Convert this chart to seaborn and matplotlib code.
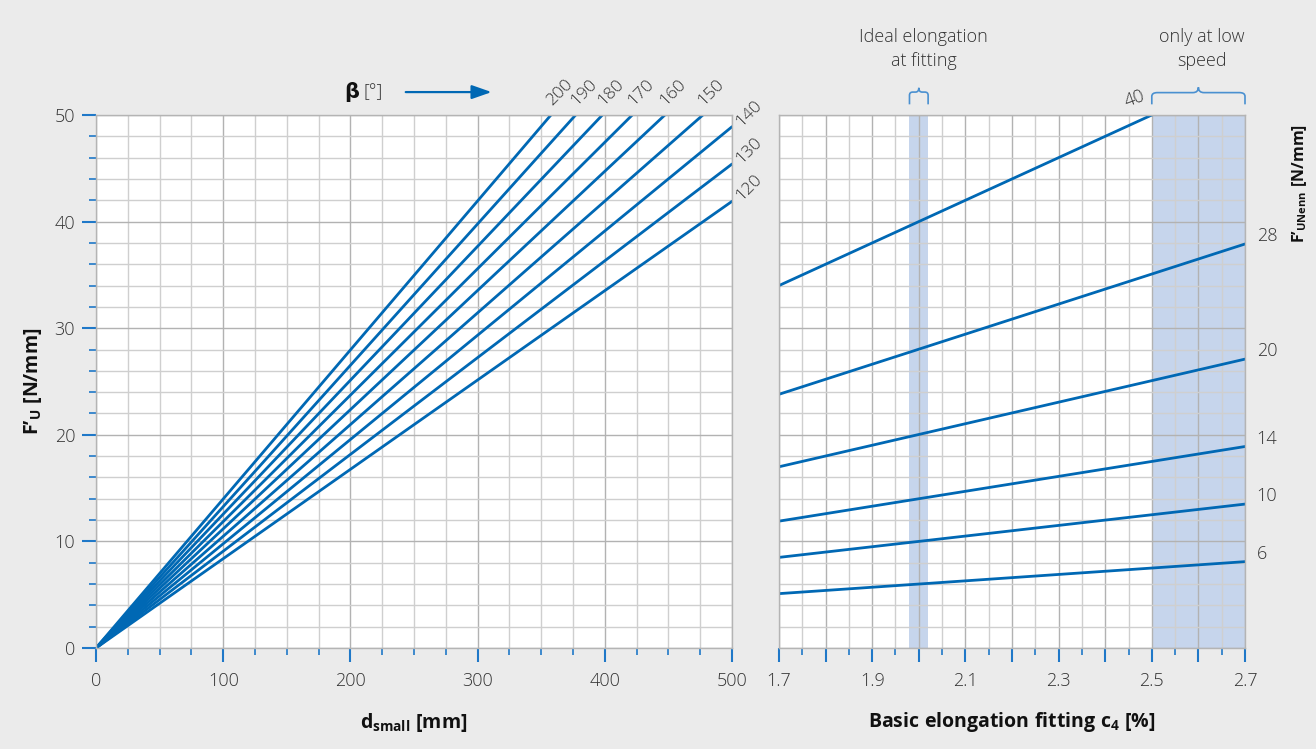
import numpy as np
import pandas as pd
import matplotlib
matplotlib.use("Agg")
import matplotlib.pyplot as plt
from matplotlib.path import Path
from matplotlib.patches import PathPatch
from matplotlib.ticker import FixedLocator, FuncFormatter
import seaborn as sns

# ---------------- data ----------------
betas = [120, 130, 140, 150, 160, 170, 180, 190, 200]
fu_at_d500 = [41.9, 45.4, 48.9, 52.4, 55.9, 59.3, 62.8, 66.3, 69.9]   # F'U at d_small = 500 mm
d_ends = [0, 500]

nenn_values = [6, 10, 14, 20, 28, 40]
c4_ends = [1.7, 2.7]
fu_at_c4_17 = [5.1, 8.5, 11.9, 17.0, 23.8, 34.0]
fu_at_c4_27 = [8.1, 13.5, 18.9, 27.1, 37.9, 54.0]

ideal_band = [1.98, 2.02]
lowspeed_band = [2.5, 2.7]

left_xticks = [0, 100, 200, 300, 400, 500]
left_yticks = [0, 10, 20, 30, 40, 50]
right_xticks = [1.7, 1.8, 1.9, 2.0, 2.1, 2.2, 2.3, 2.4, 2.5, 2.6, 2.7]

# ---------------- style ----------------
sns.set_theme(style="white")
plt.rcParams["font.family"] = ["Open Sans", "DejaVu Sans"]
plt.rcParams["mathtext.fontset"] = "custom"
plt.rcParams["mathtext.rm"] = "Open Sans"
plt.rcParams["mathtext.bf"] = "Open Sans:bold"
plt.rcParams["mathtext.it"] = "Open Sans:italic"

BG = "#ebebeb"
LINE = "#0068b4"
TICK = "#1f78c8"
TXT = "#333333"
SPINE = "#b4b4b4"
GRID_MAJ = "#b2b2b2"
GRID_MIN = "#cfcfcf"
SHADE = "#c6d5ec"
BRACE = "#4a90d0"
LW = "light"

fig = plt.figure(figsize=(13.16, 7.49), dpi=100, facecolor=BG)
axL = fig.add_axes([96 / 1316, 1 - 648 / 749, 636 / 1316, 533 / 749])
axR = fig.add_axes([779 / 1316, 1 - 648 / 749, 466 / 1316, 533 / 749])

for ax in (axL, axR):
    ax.set_facecolor("white")
    for s in ax.spines.values():
        s.set_color(SPINE)
        s.set_linewidth(1.0)
    ax.grid(True, which="major", color=GRID_MAJ, lw=1.0, zorder=0.5)
    ax.grid(True, which="minor", color=GRID_MIN, lw=1.0, zorder=0.4)
    ax.set_axisbelow(True)

# ---------------- left panel ----------------
rows = []
for b, v in zip(betas, fu_at_d500):
    for d in d_ends:
        rows.append({"beta": b, "d": d, "F": v * d / d_ends[-1]})
dfL = pd.DataFrame(rows)
sns.lineplot(data=dfL, x="d", y="F", units="beta", estimator=None,
             color=LINE, lw=2.0, ax=axL, legend=False)

axL.set_xlim(0, 500)
axL.set_ylim(0, 50)
axL.xaxis.set_major_locator(FixedLocator(left_xticks))
axL.xaxis.set_minor_locator(FixedLocator(np.arange(0, 501, 25)))
axL.yaxis.set_major_locator(FixedLocator(left_yticks))
axL.yaxis.set_minor_locator(FixedLocator(np.arange(0, 51, 2)))
axL.tick_params(axis="both", which="major", length=10, width=1.5, color=TICK,
                labelsize=13, labelcolor=TXT, direction="out")
axL.tick_params(axis="both", which="minor", length=5, width=1.2, color=TICK, direction="out")
axL.tick_params(axis="x", which="major", pad=7)
axL.tick_params(axis="y", which="major", pad=5)
axL.tick_params(bottom=True, left=True, which="both")

axL.set_xlabel(r"$\mathbf{d}_{\mathbf{small}}\ \mathbf{[mm]}$", fontsize=14, color="#111111")
axL.set_ylabel(r"$\mathbf{F’}_{\mathbf{U}}\ \mathbf{[N/mm]}$", fontsize=14, color="#111111")
axL.xaxis.set_label_coords(0.5, -0.139)
axL.xaxis.label.set_va("center")
axL.yaxis.set_label_coords(-0.099, 0.5)
axL.yaxis.label.set_va("center")

# beta labels at the line ends
for b, v in zip(betas, fu_at_d500):
    if v > 50:
        xe, ye = d_ends[-1] * 50 / v, 50
        off = (2.5, 4.5)
    else:
        xe, ye = d_ends[-1], v
        off = (8.5, -2)
    axL.annotate(str(b), xy=(xe, ye), xytext=off, textcoords="offset points",
                 rotation=45, rotation_mode="anchor", ha="left", va="bottom",
                 fontsize=12.5, color=TXT, fontweight=LW, annotation_clip=False)

# beta [°] with arrow
axL.text(201, 52.15, "β", fontsize=15, fontweight="bold", color="#111111",
         ha="center", va="center", clip_on=False, family=["DejaVu Sans"])
axL.text(218, 52.15, "[°]", fontsize=13, color=TXT, fontweight=LW,
         ha="center", va="center", clip_on=False)
axL.annotate("", xy=(311, 52.15), xytext=(243.5, 52.15),
             arrowprops=dict(arrowstyle="-|>,head_length=1.0,head_width=0.35",
                             color=LINE, lw=1.6, shrinkA=0, shrinkB=0),
             annotation_clip=False)

# ---------------- right panel ----------------
axR.axvspan(ideal_band[0], ideal_band[1], color=SHADE, lw=0, zorder=0.3)
axR.axvspan(lowspeed_band[0], lowspeed_band[1], color=SHADE, lw=0, zorder=0.3)

rows = []
for n, a, b in zip(nenn_values, fu_at_c4_17, fu_at_c4_27):
    rows.append({"nenn": n, "c4": c4_ends[0], "F": a})
    rows.append({"nenn": n, "c4": c4_ends[1], "F": b})
dfR = pd.DataFrame(rows)
sns.lineplot(data=dfR, x="c4", y="F", units="nenn", estimator=None,
             color=LINE, lw=2.0, ax=axR, legend=False)

axR.set_xlim(1.7, 2.7)
axR.set_ylim(0, 50)
axR.xaxis.set_major_locator(FixedLocator(right_xticks))
axR.xaxis.set_minor_locator(FixedLocator(np.round(np.arange(1.75, 2.7, 0.1), 2)))
axR.xaxis.set_major_formatter(FuncFormatter(
    lambda v, p: f"{v:.1f}" if int(round(v * 10)) % 2 == 1 else ""))
axR.yaxis.set_major_locator(FixedLocator(left_yticks))
axR.yaxis.set_minor_locator(FixedLocator(np.arange(0, 51, 2)))
axR.tick_params(axis="x", which="major", length=10, width=1.5, color=TICK,
                labelsize=13, labelcolor=TXT, direction="out", pad=7, bottom=True)
axR.tick_params(axis="x", which="minor", length=5, width=1.2, color=TICK,
                direction="out", bottom=True)
axR.tick_params(axis="y", which="both", length=0, left=False, labelleft=False)

for lab in axL.get_xticklabels() + axL.get_yticklabels() + axR.get_xticklabels():
    lab.set_fontweight(LW)

axR.set_xlabel(r"$\mathbf{Basic\ elongation\ fitting\ c}_{\mathbf{4}}\ \mathbf{[\%]}$",
               fontsize=14, color="#111111")
axR.xaxis.set_label_coords(0.5, -0.139)
axR.xaxis.label.set_va("center")
axR.set_ylabel("")
axR.text(1.118, 0.872, r"$\mathbf{F’}_{\mathbf{UNenn}}\ \mathbf{[N/mm]}$",
         transform=axR.transAxes, rotation=90, fontsize=11.5, color="#111111",
         ha="center", va="center", clip_on=False)

# value labels at right end
for n, b in zip(nenn_values, fu_at_c4_27):
    if b <= 50:
        axR.text(2.725, b + 0.75, str(n), fontsize=13, color=TXT, fontweight=LW,
                 ha="left", va="center", clip_on=False)
axR.text(2.464, 51.5, str(nenn_values[-1]), fontsize=13, color=TXT, rotation=20,
         fontweight=LW, ha="center", va="center", clip_on=False)

# annotations above right panel
axR.text(2.01, 56.2, "Ideal elongation\nat fitting", fontsize=13, color=TXT,
         fontweight=LW, ha="center", va="center", linespacing=1.45, clip_on=False)
axR.text(2.607, 56.2, "only at low\nspeed", fontsize=13, color=TXT,
         fontweight=LW, ha="center", va="center", linespacing=1.45, clip_on=False)


def brace(ax, x0, x1, yb, yh, yp, dx, r):
    xm = (x0 + x1) / 2
    verts = [(x0, yb), (x0, yh - r), (x0, yh), (x0 + dx, yh),
             (xm - dx, yh), (xm, yh), (xm, yp),
             (xm, yh), (xm + dx, yh),
             (x1 - dx, yh), (x1, yh), (x1, yh - r), (x1, yb)]
    codes = [Path.MOVETO, Path.LINETO, Path.CURVE3, Path.CURVE3,
             Path.LINETO, Path.CURVE3, Path.CURVE3,
             Path.CURVE3, Path.CURVE3,
             Path.LINETO, Path.CURVE3, Path.CURVE3, Path.LINETO]
    ax.add_patch(PathPatch(Path(verts, codes), fill=False, edgecolor=BRACE,
                           lw=1.2, clip_on=False))


brace(axR, lowspeed_band[0], lowspeed_band[1], 51.0, 52.1, 52.6, 0.012, 0.35)
brace(axR, ideal_band[0], ideal_band[1], 51.0, 52.15, 52.55, 0.007, 0.3)

fig.savefig("out.png", dpi=100, facecolor=BG)
